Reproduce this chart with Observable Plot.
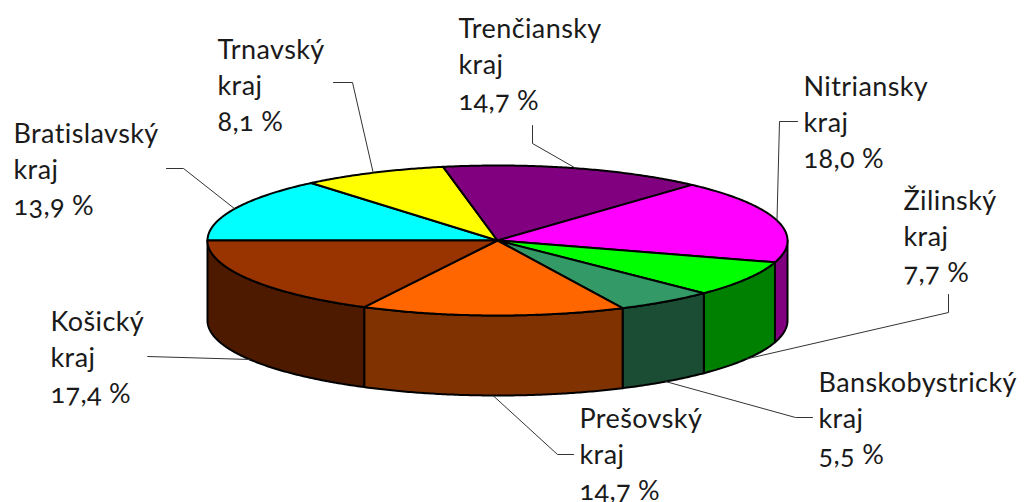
<!DOCTYPE html>
<html>
<head>
<meta charset="utf-8">
<script src="https://cdn.jsdelivr.net/npm/d3@7"></script>
<script src="https://cdn.jsdelivr.net/npm/@observablehq/plot@0.6"></script>
<style>
  html, body { margin: 0; padding: 0; background: #fff; }
  #chart svg { display: block; font-variant-numeric: oldstyle-nums; }
  #chart svg text { letter-spacing: 0.4px; }
</style>
</head>
<body>
<div id="chart"></div>
<script>
// ---- data (clockwise from the left edge of the pie) ----
const regions = ["Bratislavský", "Trnavský", "Trenčiansky", "Nitriansky", "Žilinský", "Banskobystrický", "Prešovský", "Košický"];
const shares = [13.9, 8.1, 14.7, 18.0, 7.7, 5.5, 14.7, 17.4];
const shareLabels = ["13,9", "8,1", "14,7", "18,0", "7,7", "5,5", "14,7", "17,4"];

// ---- styles ----
const topColors = ["#00ffff", "#ffff00", "#800080", "#ff00ff", "#00ff00", "#339966", "#ff6600", "#993300"];

// ---- pie geometry (pixel space of the plot) ----
const W = 1025, H = 502;
const cx = 497, cy = 240, rx = 290, ry = 75, depth = 80;

// label layout: text left x, y of middle line, elbow point, end point
const labelLayout = [
  {tx: 13,  ty: 167, ex: 183, ey: 168, lx: 166, ly: 168},
  {tx: 217, ty: 83,  ex: 352, ey: 82,  lx: 333, ly: 82},
  {tx: 458, ty: 62,  ex: 532, ey: 143, lx: 532, ly: 125},
  {tx: 803, ty: 120, ex: 779, ey: 121, lx: 797, ly: 121},
  {tx: 903, ty: 234, ex: 948, ey: 312, lx: 948, ly: 294},
  {tx: 818, ty: 416, ex: 795, ey: 417, lx: 812, ly: 417},
  {tx: 579, ty: 452, ex: 557, ey: 454, lx: 573, ly: 454},
  {tx: 50,  ty: 355, ex: 147, ey: 356, lx: 147, ly: 356}
];

const total = d3.sum(shares);
let acc = 0;
const slices = shares.map((v, i) => {
  const a0 = Math.PI + 2 * Math.PI * acc / total;
  acc += v;
  const a1 = Math.PI + 2 * Math.PI * acc / total;
  return {i, a0, a1, mid: (a0 + a1) / 2};
});

const pt = (a, dy = 0) => ({x: cx + rx * Math.cos(a), y: cy + ry * Math.sin(a) + dy});
function arc(a0, a1, dy = 0) {
  const n = Math.max(2, Math.ceil(Math.abs(a1 - a0) / (Math.PI / 360)));
  return d3.range(n + 1).map(k => pt(a0 + (a1 - a0) * k / n, dy));
}

const marks = [];
// front side walls (angles between 2π and 3π face the viewer)
for (const s of slices) {
  const lo = Math.max(s.a0, 2 * Math.PI), hi = Math.min(s.a1, 3 * Math.PI);
  if (hi <= lo) continue;
  const c = d3.rgb(topColors[s.i]);
  const dark = d3.rgb(c.r * 0.5, c.g * 0.5, c.b * 0.5).formatHex();
  const poly = [...arc(lo, hi), ...arc(hi, lo, depth)];
  poly.push(poly[0]);
  marks.push(Plot.line(poly, {x: "x", y: "y", fill: dark, stroke: "#000", strokeWidth: 2, strokeLinejoin: "round"}));
}
// top faces
for (const s of slices) {
  const poly = [{x: cx, y: cy}, ...arc(s.a0, s.a1), {x: cx, y: cy}];
  marks.push(Plot.line(poly, {x: "x", y: "y", fill: topColors[s.i], stroke: "#000", strokeWidth: 2, strokeLinejoin: "round"}));
}
// leader lines: start at the slice's mid-angle on the visible rim
const leaders = slices.map(s => {
  const front = Math.sin(s.mid) > 0;
  const p = pt(s.mid, front ? depth : 0);
  const L = labelLayout[s.i];
  return [p, {x: L.ex, y: L.ey}, {x: L.lx, y: L.ly}];
});
for (const l of leaders) {
  marks.push(Plot.line(l, {x: "x", y: "y", stroke: "#333", strokeWidth: 1}));
}
// labels
const labels = slices.map(s => ({
  x: labelLayout[s.i].tx,
  y: labelLayout[s.i].ty,
  text: `${regions[s.i]}\nkraj\n${shareLabels[s.i]}\u202F%`
}));
marks.push(Plot.text(labels, {
  x: "x", y: "y", text: "text", textAnchor: "start", lineAnchor: "middle",
  lineHeight: 1.32, fontSize: 27, fill: "#1a1a1a", fontFamily: "Lato"
}));

const chart = Plot.plot({
  width: W, height: H,
  margin: 0,
  x: {domain: [0, W], range: [0, W], axis: null},
  y: {domain: [0, H], range: [0, H], axis: null},
  style: {background: "#fff", fontFamily: "Lato"},
  marks
});
document.getElementById("chart").appendChild(chart);
</script>
</body>
</html>
